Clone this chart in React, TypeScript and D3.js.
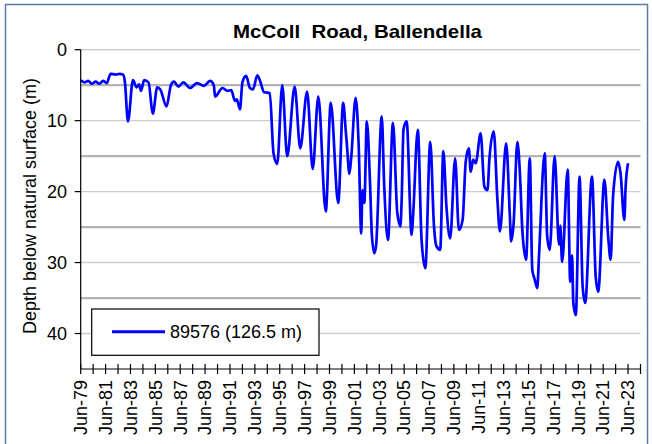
import React from "react";
import * as d3 from "d3";

// Decimal years (Jun-79 tick == 1979.5) and depth below natural surface (m)
const years: number[] = [
  1979.5, 1979.8, 1980.1, 1980.4, 1980.7, 1981.0, 1981.3, 1981.6, 1981.9, 1982.3,
  1982.6, 1982.9, 1983.05, 1983.3, 1983.7, 1984.0, 1984.2, 1984.35, 1984.6, 1984.95,
  1985.3, 1985.65, 1985.9, 1986.4, 1986.75, 1987.0, 1987.35, 1987.75, 1988.3, 1988.85,
  1989.4, 1989.9, 1990.2, 1990.3, 1990.9, 1991.3, 1991.6, 1991.9, 1992.05, 1992.3,
  1992.5, 1992.8, 1993.1, 1993.35, 1993.7, 1993.9, 1994.25, 1994.7, 1995.0, 1995.3,
  1995.7, 1996.1, 1996.7, 1997.15, 1997.7, 1998.15, 1998.6, 1999.2, 1999.6, 2000.2,
  2000.6, 2000.8, 2000.9, 2001.1, 2001.25, 2001.6, 2001.85, 2002.05, 2002.15, 2002.3,
  2002.5, 2002.75, 2002.9, 2003.1, 2003.25, 2003.7, 2003.9, 2004.2, 2004.6, 2004.95,
  2005.2, 2005.3, 2005.45, 2005.7, 2006.1, 2006.2, 2006.6, 2006.9, 2007.2, 2007.6,
  2007.9, 2008.1, 2008.4, 2008.65, 2008.9, 2009.2, 2009.6, 2009.9, 2010.2, 2010.45,
  2010.7, 2010.85, 2011.05, 2011.25, 2011.65, 2011.95, 2012.2, 2012.35, 2012.7, 2013.0,
  2013.2, 2013.7, 2014.0, 2014.1, 2014.3, 2014.6, 2014.8, 2015.0, 2015.3, 2015.6,
  2015.8, 2016.0, 2016.2, 2016.35, 2016.8, 2017.0, 2017.2, 2017.6, 2017.95, 2018.05,
  2018.2, 2018.65, 2018.85, 2019.0, 2019.1, 2019.3, 2019.6, 2019.85, 2020.05, 2020.6,
  2020.9, 2021.1, 2021.6, 2021.9, 2022.1, 2022.3, 2022.7, 2022.9, 2023.2, 2023.3,
  2023.5,
];

const depths: number[] = [
  4.3, 4.6, 4.4, 4.8, 4.5, 4.8, 4.4, 4.7, 3.4, 3.5,
  3.4, 3.5, 4.5, 10.1, 4.3, 5.3, 4.9, 5.8, 4.3, 4.6,
  9.0, 5.3, 5.6, 8.0, 5.0, 4.5, 5.2, 4.6, 5.4, 4.7,
  5.1, 4.4, 5.0, 6.6, 5.4, 5.8, 5.7, 7.2, 7.0, 8.4,
  4.6, 3.7, 5.4, 5.6, 3.6, 4.3, 6.0, 6.1, 14.6, 16.1,
  5.0, 15.0, 5.2, 13.9, 5.9, 16.8, 6.6, 22.8, 7.5, 21.6,
  7.5, 11.3, 13.4, 17.5, 15.1, 6.8, 13.7, 25.9, 19.8, 21.6,
  10.1, 18.4, 25.9, 28.7, 27.5, 9.4, 19.3, 26.8, 10.3, 23.0,
  24.9, 21.2, 11.2, 10.1, 26.1, 24.0, 11.3, 26.8, 30.8, 13.0,
  24.9, 27.7, 28.2, 14.3, 22.1, 26.6, 15.3, 25.4, 24.0, 15.8,
  13.9, 17.2, 15.5, 16.0, 11.8, 19.3, 19.8, 15.5, 11.5, 21.2,
  25.6, 13.2, 23.5, 27.0, 24.5, 13.0, 17.2, 25.4, 29.6, 15.3,
  31.0, 32.4, 33.6, 28.7, 14.6, 26.3, 28.2, 15.0, 27.5, 24.8,
  29.9, 16.9, 32.7, 29.0, 35.7, 37.4, 17.9, 33.4, 35.7, 17.9,
  32.0, 34.1, 18.3, 26.3, 29.6, 20.5, 15.8, 17.5, 24.0, 19.5,
  16.0,
];

const yTicks: number[] = [0, 10, 20, 30, 40];
const gridValues: number[] = [0, 5, 10, 15, 20, 25, 30, 35, 40];
const tickYears: number[] = d3.range(1979, 2025);
const labelYears: number[] = d3.range(1979, 2024, 2);

const title = "McColl  Road, Ballendella";
const yTitle = "Depth below natural surface (m)";
const seriesName = "89576 (126.5 m)";

const FONT = "Arial, 'Liberation Sans', sans-serif";

export default function App() {
  const W = 652;
  const H = 444;
  const left = 80.7;
  const right = 640.5;
  const top = 49.7;
  const bottom = 369;

  const x = d3.scaleLinear().domain([1979.5, 2024.5]).range([left, right]);
  const y = d3.scaleLinear().domain([0, 45]).range([top, bottom]);

  const pts = years.map((yr, i) => [yr, depths[i]] as [number, number]);
  const line = d3
    .line<[number, number]>()
    .curve(d3.curveMonotoneX)
    .x((d) => x(d[0]))
    .y((d) => y(d[1]))(pts) as string;

  const yrLabel = (yr: number) => "Jun-" + String(yr % 100).padStart(2, "0");

  return (
    <svg
      width={W}
      height={H}
      style={{ position: "absolute", left: 0, top: 0, background: "#fff" }}
      fontFamily={FONT}
    >
      <rect x={0} y={0} width={W} height={H} fill="#fff" />
      <rect x={5.5} y={4.5} width={642} height={460} fill="#fff" stroke="#5b7ca6" strokeWidth={1.5} />

      {/* gridlines */}
      {gridValues.map((v) => {
        const thick = v % 10 === 5;
        return (
          <line
            key={"g" + v}
            x1={left}
            x2={right}
            y1={y(v)}
            y2={y(v)}
            stroke={thick ? "#b4b4b4" : "#cdcdcd"}
            strokeWidth={thick ? 2.2 : 1.4}
          />
        );
      })}

      {/* data line */}
      <path d={line} fill="none" stroke="#0000ff" strokeWidth={2.7} strokeLinejoin="round" />

      {/* y axis */}
      <line x1={left} x2={left} y1={top} y2={bottom} stroke="#000" strokeWidth={1.2} />
      {yTicks.map((v) => (
        <g key={"yt" + v}>
          <line x1={left - 6} x2={left} y1={y(v)} y2={y(v)} stroke="#000" strokeWidth={1.2} />
          <text x={67} y={y(v)} dy="0.35em" textAnchor="end" fontSize={18} fill="#000">
            {v}
          </text>
        </g>
      ))}

      {/* x axis */}
      <line x1={left} x2={right} y1={bottom} y2={bottom} stroke="#000" strokeWidth={1.2} />
      {tickYears.map((yr) => (
        <line
          key={"xt" + yr}
          x1={x(yr + 0.5)}
          x2={x(yr + 0.5)}
          y1={bottom - 5}
          y2={bottom + 5}
          stroke="#000"
          strokeWidth={1.2}
        />
      ))}
      {labelYears.map((yr) => (
        <text
          key={"xl" + yr}
          transform={`translate(${x(yr + 0.5)},380) rotate(-90)`}
          dy="0.35em"
          textAnchor="end"
          fontSize={18}
          fill="#000"
        >
          {yrLabel(yr)}
        </text>
      ))}

      {/* title */}
      <text
        x={357.5}
        y={38}
        textAnchor="middle"
        fontSize={19}
        fontWeight="bold"
        fill="#000"
        xmlSpace="preserve"
        textLength={249}
        lengthAdjust="spacingAndGlyphs"
      >
        {title}
      </text>

      {/* y title */}
      <text
        transform={`translate(30,206) rotate(-90)`}
        dy="0.35em"
        textAnchor="middle"
        fontSize={18}
        fill="#000"
      >
        {yTitle}
      </text>

      {/* legend */}
      <rect x={91.7} y={309} width={227.3} height={46.3} fill="#fff" stroke="#000" strokeWidth={1.2} />
      <line x1={112} x2={165} y1={331.7} y2={331.7} stroke="#0000ff" strokeWidth={3} />
      <text x={170} y={331.7} dy="0.35em" fontSize={18} fill="#000">
        {seriesName}
      </text>
    </svg>
  );
}
